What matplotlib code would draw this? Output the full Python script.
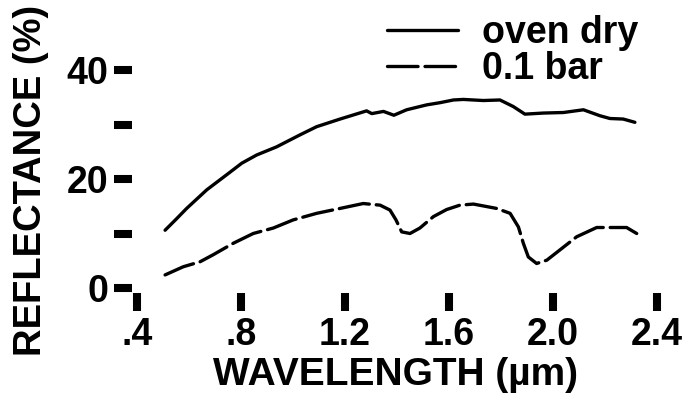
import matplotlib
matplotlib.use("Agg")
import matplotlib.pyplot as plt

plt.rcParams['font.family'] = ['Liberation Sans', 'DejaVu Sans']
plt.rcParams['font.weight'] = 'bold'
plt.rcParams['lines.scale_dashes'] = False

# --- data ---
wl_dry = [0.508, 0.55, 0.591, 0.668, 0.751, 0.803, 0.86, 0.937, 1.027, 1.091,
          1.181, 1.283, 1.303, 1.348, 1.388, 1.437, 1.514, 1.565, 1.617, 1.655,
          1.732, 1.796, 1.847, 1.892, 1.963, 2.040, 2.117, 2.181, 2.219, 2.270, 2.315]
refl_dry = [10.6, 12.6, 14.6, 18.0, 21.0, 22.9, 24.4, 25.9, 28.1, 29.6,
            31.0, 32.5, 32.0, 32.4, 31.7, 32.7, 33.6, 34.0, 34.5, 34.6,
            34.4, 34.5, 33.3, 31.9, 32.1, 32.2, 32.7, 31.6, 31.1, 31.0, 30.4]

wl_wet = [0.508, 0.578, 0.642, 0.693, 0.770, 0.847, 0.924, 1.001, 1.091, 1.181,
          1.270, 1.335, 1.373, 1.396, 1.418, 1.450, 1.488, 1.540, 1.591, 1.642,
          1.694, 1.783, 1.835, 1.867, 1.886, 1.905, 1.937, 1.976, 2.027, 2.091,
          2.168, 2.232, 2.283, 2.322]
refl_wet = [2.4, 3.9, 4.8, 6.1, 8.2, 10.0, 11.0, 12.5, 13.7, 14.6,
            15.5, 15.2, 14.3, 12.5, 10.3, 10.0, 11.0, 13.1, 14.4, 15.2,
            15.4, 14.6, 13.7, 11.2, 8.2, 5.7, 4.5, 5.1, 7.0, 9.4,
            11.1, 11.1, 11.1, 10.0]

series_labels = ['oven dry', '0.1 bar']
x_ticks = [0.4, 0.8, 1.2, 1.6, 2.0, 2.4]
x_ticklabels = ['.4', '.8', '1.2', '1.6', '2.0', '2.4']
y_ticks = [0, 10, 20, 30, 40]
y_ticklabels = ['0', '', '20', '', '40']

W, H = 684, 394
fig = plt.figure(figsize=(W / 100, H / 100), dpi=100)
ax = fig.add_axes([137 / W, (H - 288) / H, 520 / W, 218 / H])

ax.plot(wl_dry, refl_dry, color='black', lw=2.4, solid_joinstyle='round',
        solid_capstyle='round', label=series_labels[0])
ax.plot(wl_wet, refl_wet, color='black', lw=2.4, dashes=(22, 5),
        dash_capstyle='round', label=series_labels[1])

ax.set_xlim(0.4, 2.4)
ax.set_ylim(0, 40)

for s in ax.spines.values():
    s.set_visible(False)
ax.spines['left'].set_position(('outward', 3.6))
ax.spines['bottom'].set_position(('outward', 3.6))

ax.set_xticks(x_ticks)
ax.set_xticklabels(x_ticklabels)
ax.set_yticks(y_ticks)
ax.set_yticklabels(y_ticklabels)
ax.tick_params(axis='both', direction='out', length=13, width=5.8,
               color='black', labelsize=27)
ax.tick_params(axis='x', pad=4.5)
ax.tick_params(axis='y', pad=4)
for lab in ax.get_xticklabels() + ax.get_yticklabels():
    lab.set_fontweight('bold')

ax.set_xlabel('WAVELENGTH (µm)', fontsize=28, fontweight='bold')
ax.xaxis.set_label_coords(0.498, -0.315)
ax.set_ylabel('REFLECTANCE (%)', fontsize=27.5, fontweight='bold')
ax.yaxis.set_label_coords(-0.169, 0.495)

ax.legend(loc='upper left', bbox_to_anchor=(387 / W, (H - 15) / H),
          bbox_transform=fig.transFigure, frameon=False,
          borderpad=0, borderaxespad=0, handlelength=1.9, handletextpad=0.62,
          labelspacing=0.0, prop={'weight': 'bold', 'size': 27})

fig.savefig('out.png', dpi=100)
